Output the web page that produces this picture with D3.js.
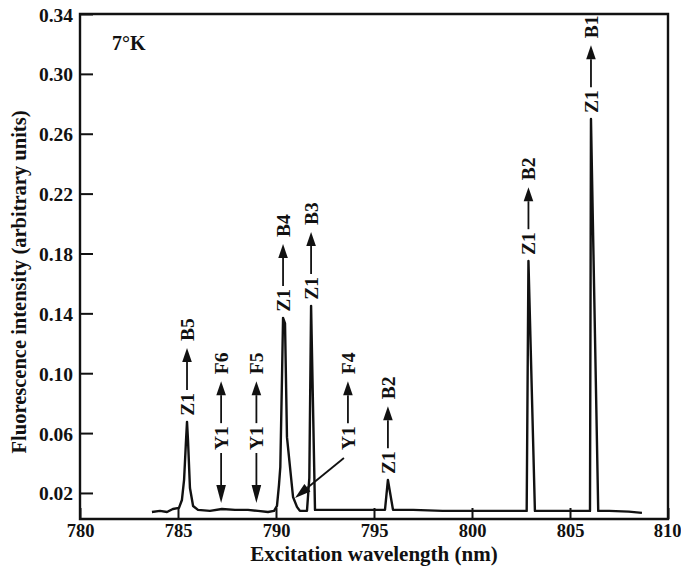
<!DOCTYPE html>
<html>
<head>
<meta charset="utf-8">
<script src="https://cdn.jsdelivr.net/npm/d3@7"></script>
<style>
  body { margin: 0; background: #fff; }
  svg text { font-family: "Liberation Serif", "Times New Roman", serif; font-weight: bold; fill: #111; }
</style>
</head>
<body>
<script>
// excitation spectrum, [wavelength nm, intensity]
const spectrum = [
  [783.67, 0.0073], [784.08, 0.0080], [784.44, 0.0073], [784.74, 0.0093],
  [785.05, 0.0100], [785.20, 0.0153], [785.31, 0.0287], [785.41, 0.0553],
  [785.46, 0.0675], [785.51, 0.0553], [785.61, 0.0233], [785.77, 0.0113],
  [786.02, 0.0087], [786.63, 0.0080], [787.24, 0.0093], [787.91, 0.0087],
  [788.57, 0.0087], [789.08, 0.0080], [789.59, 0.0073], [789.90, 0.0080],
  [790.05, 0.0113], [790.15, 0.0250], [790.22, 0.0373], [790.31, 0.1000],
  [790.36, 0.1370], [790.46, 0.1333], [790.56, 0.0573], [790.87, 0.0173],
  [791.07, 0.0107], [791.22, 0.0080], [791.58, 0.0080], [791.70, 0.0300],
  [791.79, 0.1450], [791.99, 0.0087], [793.00, 0.0087], [794.00, 0.0087],
  [795.00, 0.0087], [795.56, 0.0087], [795.71, 0.0287], [795.97, 0.0087],
  [797.00, 0.0087], [798.50, 0.0080], [800.00, 0.0080], [801.50, 0.0080],
  [802.79, 0.0080], [802.88, 0.1750], [803.21, 0.0080], [804.00, 0.0080],
  [805.00, 0.0080], [806.02, 0.0080], [806.07, 0.2699], [806.44, 0.0080],
  [807.00, 0.0080], [808.00, 0.0075], [808.67, 0.0067]
];

// Z1 -> Bn assignments of the peaks
const peakNm = [785.46, 790.36, 791.79, 795.71, 802.88, 806.07];
const peakFrom = ["Z1", "Z1", "Z1", "Z1", "Z1", "Z1"];
const peakTo = ["B5", "B4", "B3", "B2", "B2", "B1"];

// Y1 -> Fn levels, with where their arrows point
const levelNm = [787.2, 789.0, 793.67];
const levelFrom = ["Y1", "Y1", "Y1"];
const levelTo = ["F6", "F5", "F4"];
const levelTipNm = [787.2, 789.0, 790.97];
const levelTipI = [0.0133, 0.0133, 0.0167];

const xTicks = [780, 785, 790, 795, 800, 805, 810];
const yTicks = [0.02, 0.06, 0.10, 0.14, 0.18, 0.22, 0.26, 0.30, 0.34];

const width = 681, height = 575;

const svg = d3.select('body').append('svg')
  .attr('width', width)
  .attr('height', height);

const x = d3.scaleLinear().domain([780, 810]).range([80, 668]);
const y = d3.scaleLinear().domain([0.0026, 0.34]).range([519, 14]);

// axes, ticks pointing inwards
const xAxis = svg.append('g')
  .attr('transform', 'translate(0,' + y.range()[0] + ')')
  .call(d3.axisBottom(x).tickValues(xTicks).tickSizeInner(-11).tickSizeOuter(0).tickPadding(5)
    .tickFormat(d3.format('d')));
const yAxis = svg.append('g')
  .attr('transform', 'translate(' + x.range()[0] + ',0)')
  .call(d3.axisLeft(y).tickValues(yTicks).tickSizeInner(-13).tickSizeOuter(0).tickPadding(7)
    .tickFormat(d3.format('.2f')));

[xAxis, yAxis].forEach(a => {
  a.select('.domain').remove();
  a.selectAll('.tick line').attr('stroke', '#111').attr('stroke-width', 2);
  a.selectAll('.tick text').attr('fill', '#111').attr('font-family', null);
});
xAxis.selectAll('.tick text').style('font-size', '18.5px');
// last label sits against the right edge of the page
xAxis.selectAll('.tick text').filter(d => d === 810).attr('text-anchor', 'end').attr('x', 13);
yAxis.selectAll('.tick text').style('font-size', '19.5px').attr('dy', '0.36em');

// frame
const [x0, x1] = x.range(), [y0, y1] = y.range();
svg.append('path')
  .attr('d', `M${x1},${y1}H${x0}V${y0}H${x1}Z`)
  .attr('fill', 'none').attr('stroke', '#111').attr('stroke-width', 2.4);

// spectrum trace
const line = d3.line().x(d => x(d[0])).y(d => y(d[1]));
svg.append('path')
  .datum(spectrum)
  .attr('d', line)
  .attr('fill', 'none')
  .attr('stroke', '#111')
  .attr('stroke-width', 2.4)
  .attr('stroke-linejoin', 'round');

// filled arrowhead with tip at (tx,ty) coming from (fx,fy)
function arrow(g, fx, fy, tx, ty, len = 15, half = 4.5) {
  const dx = tx - fx, dy = ty - fy, l = Math.hypot(dx, dy);
  const ux = dx / l, uy = dy / l;
  const bx = tx - ux * len, by = ty - uy * len;
  g.append('line')
    .attr('x1', fx).attr('y1', fy).attr('x2', bx).attr('y2', by)
    .attr('stroke', '#111').attr('stroke-width', 1.8);
  g.append('path')
    .attr('d', `M${tx},${ty}L${bx - uy * half},${by + ux * half}L${bx + uy * half},${by - ux * half}Z`)
    .attr('fill', '#111');
}

// vertical "A ——> B" label, bottom at (cx, by)
function transition(cx, by, from, to) {
  const g = svg.append('g')
    .attr('transform', `translate(${cx},${by}) rotate(-90)`)
    .style('font-size', '19.5px');
  const a = g.append('text').attr('dy', '0.35em').text(from);
  const w = a.node().getComputedTextLength();
  arrow(g, w + 3, 0, w + 45, 0, 14, 4.8);
  g.append('text').attr('x', w + 52).attr('dy', '0.35em').text(to);
}

const peakI = peakNm.map(nm => spectrum.find(d => d[0] === nm)[1]);
peakNm.forEach((nm, i) => transition(x(nm), y(peakI[i]) - 6, peakFrom[i], peakTo[i]));

const labelRow = y(levelTipI[0]) - 53;
levelNm.forEach((nm, i) => {
  transition(x(nm), labelRow, levelFrom[i], levelTo[i]);
  const tx = x(levelTipNm[i]), ty = y(levelTipI[i]);
  const g = svg.append('g');
  if (levelTipNm[i] === nm) arrow(g, tx, labelRow + 3, tx, ty, 18, 4.8);
  else arrow(g, x(nm) - 4, labelRow + 8, tx, ty, 16, 4.8);
});

// titles
svg.append('text')
  .attr('x', 374).attr('y', 561)
  .attr('text-anchor', 'middle')
  .style('font-size', '21px')
  .text('Excitation wavelength (nm)');

svg.append('text')
  .attr('transform', 'translate(19,282) rotate(-90)')
  .attr('text-anchor', 'middle')
  .attr('dy', '0.35em')
  .style('font-size', '20.5px')
  .text('Fluorescence intensity (arbitrary units)');

svg.append('text')
  .attr('x', 112).attr('y', 50)
  .style('font-size', '20px')
  .text('7°K');
</script>
</body>
</html>
